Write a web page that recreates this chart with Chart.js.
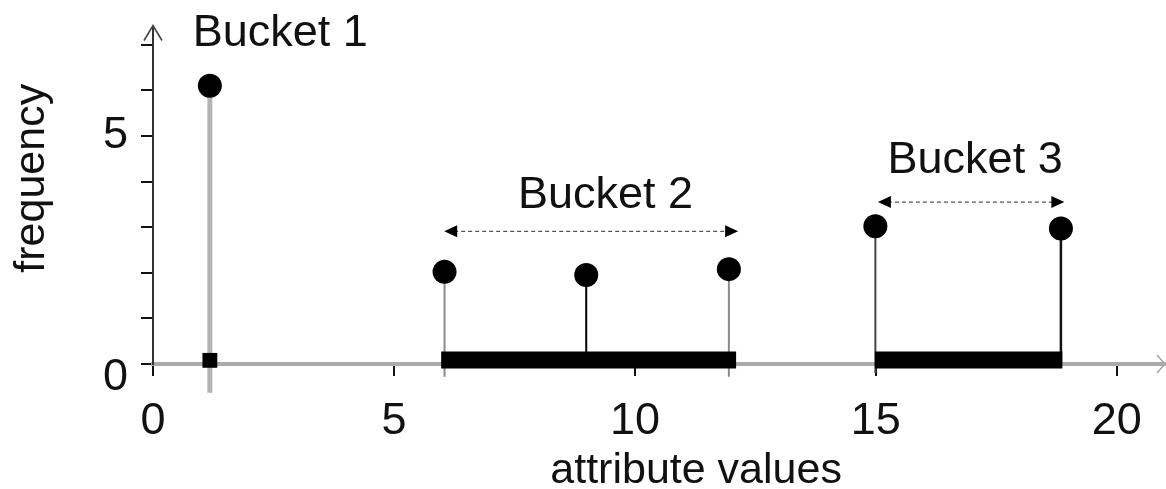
<!DOCTYPE html>
<html><head><meta charset="utf-8">
<script src="https://cdn.jsdelivr.net/npm/chart.js@4.4.1/dist/chart.umd.min.js"></script>
<style>html,body{margin:0;padding:0;background:#fff}#wrap{width:1166px;height:489px;position:relative}</style>
</head><body><div id="wrap"><canvas id="c"></canvas></div>
<script>
// ---- data ----
const attributeValues = [1.18, 6.05, 8.99, 11.95, 14.99, 18.84];
const frequencies     = [6.1, 2.02, 1.95, 2.08, 3.02, 2.97];
const stemBottoms     = [-0.63, -0.28, 0, -0.28, -0.2, 0];
const bucketNames  = ['Bucket 1', 'Bucket 2', 'Bucket 3'];
const bucketStart  = [1.18, 5.98, 14.98];
const bucketEnd    = [1.18, 12.1, 18.87];
const bucketLabelX = [2.64, 9.39, 17.06];
const bucketLabelY = [6.98, 3.41, 4.18];
const bucketArrowY = [null, 2.91, 3.55];
const xTicks = [0, 5, 10, 15, 20];
const yTicks = [0, 1, 2, 3, 4, 5, 6, 7];
const yTickLabels = ['0', '', '', '', '', '5', '', ''];
const xTitle = 'attribute values';
const yTitle = 'frequency';

// ---- styles ----
const stemColors = ['#b4b4b4', '#8a8a8a', '#000000', '#8a8a8a', '#444444', '#111111'];
const stemWidths = [5, 2, 2, 2, 2, 2.5];
const FONT = "'Liberation Sans', Arial, Helvetica, sans-serif";

const datasets = [];
attributeValues.forEach((v, i) => {
  datasets.push({
    type: 'line', data: [{x: v, y: stemBottoms[i]}, {x: v, y: frequencies[i]}],
    borderColor: stemColors[i], borderWidth: stemWidths[i], pointRadius: 0,
    clip: false, order: 5, borderCapStyle: 'butt'
  });
});
// bucket bars (bucket 1 is a single value -> square marker)
bucketStart.forEach((s, i) => {
  if (s === bucketEnd[i]) {
    datasets.push({
      type: 'scatter', data: [{x: s, y: 0.08}], pointStyle: 'rect', pointRadius: 10.5,
      backgroundColor: '#000', borderColor: '#000', borderWidth: 0, clip: false, order: 1
    });
  } else {
    datasets.push({
      type: 'line', data: [{x: s, y: 0.09}, {x: bucketEnd[i], y: 0.09}],
      borderColor: '#000', borderWidth: 17, borderCapStyle: 'butt', pointRadius: 0,
      clip: false, order: 1
    });
  }
});
datasets.push({
  type: 'scatter', data: attributeValues.map((v, i) => ({x: v, y: frequencies[i]})),
  pointRadius: 12, pointHoverRadius: 12, backgroundColor: '#000', borderColor: '#000', borderWidth: 0,
  clip: false, order: 0
});

const annot = {
  id: 'annot',
  afterDraw(chart) {
    const {ctx, scales: {x, y}, chartArea: a} = chart;
    ctx.save();
    // y axis arrowhead (open)
    ctx.strokeStyle = '#444'; ctx.lineWidth = 1.6;
    ctx.beginPath();
    ctx.moveTo(a.left - 9, a.top + 14); ctx.lineTo(a.left, a.top - 1); ctx.lineTo(a.left + 9, a.top + 14);
    ctx.stroke();
    // x axis arrowhead (open)
    ctx.strokeStyle = '#aaa';
    ctx.beginPath();
    ctx.moveTo(a.right - 8, a.bottom - 9); ctx.lineTo(a.right, a.bottom); ctx.lineTo(a.right - 8, a.bottom + 9);
    ctx.stroke();
    // bucket dashed arrows
    bucketArrowY.forEach((yy, i) => {
      if (yy === null) return;
      const x0 = x.getPixelForValue(bucketStart[i]) + 3, x1 = x.getPixelForValue(bucketEnd[i]) + 2;
      const py = y.getPixelForValue(yy);
      ctx.strokeStyle = '#555'; ctx.lineWidth = 1.3; ctx.setLineDash([4, 3]);
      ctx.beginPath(); ctx.moveTo(x0 + 10, py); ctx.lineTo(x1 - 10, py); ctx.stroke();
      ctx.setLineDash([]);
      ctx.fillStyle = '#000';
      ctx.beginPath(); ctx.moveTo(x0, py); ctx.lineTo(x0 + 13, py - 6); ctx.lineTo(x0 + 13, py + 6); ctx.closePath(); ctx.fill();
      ctx.beginPath(); ctx.moveTo(x1, py); ctx.lineTo(x1 - 13, py - 6); ctx.lineTo(x1 - 13, py + 6); ctx.closePath(); ctx.fill();
    });
    // bucket labels
    ctx.fillStyle = '#111'; ctx.font = '45px ' + FONT; ctx.textAlign = 'center'; ctx.textBaseline = 'alphabetic';
    bucketNames.forEach((n, i) => {
      ctx.fillText(n, x.getPixelForValue(bucketLabelX[i]), y.getPixelForValue(bucketLabelY[i]));
    });
    // axis titles
    ctx.font = '43px ' + FONT;
    ctx.fillText(xTitle, x.getPixelForValue(11.27), 483);
    ctx.translate(44, (a.top + a.bottom) / 2 - 17);
    ctx.rotate(-Math.PI / 2);
    ctx.fillText(yTitle, 0, 0);
    ctx.restore();
  }
};

new Chart(document.getElementById('c'), {
  data: {datasets},
  options: {
    responsive: true, maintainAspectRatio: false, animation: false,
    events: [],
    layout: {autoPadding: false, padding: {top: 26, right: 1, left: 0, bottom: 0}},
    plugins: {legend: {display: false}, tooltip: {enabled: false}},
    scales: {
      x: {
        type: 'linear', min: 0, max: 21,
        afterBuildTicks: s => { s.ticks = xTicks.map(v => ({value: v})); },
        afterFit: s => { s.height = 125; },
        ticks: {callback: v => String(v), color: '#111', font: {size: 45, family: FONT}, padding: 19, maxRotation: 0, autoSkip: false},
        grid: {drawOnChartArea: false, drawTicks: true, tickLength: 12, color: '#111', lineWidth: 2},
        border: {display: true, color: '#aaa', width: 4}
      },
      y: {
        type: 'linear', min: 0, max: 7.4,
        afterBuildTicks: s => { s.ticks = yTicks.map(v => ({value: v})); },
        afterFit: s => { s.width = 153; },
        ticks: {
          callback: (v) => { const i = yTicks.indexOf(v); const t = yTickLabels[i]; return v === 0 ? ['', t] : t; },
          color: '#111', font: {size: 45, family: FONT, lineHeight: 0.6}, padding: 13, autoSkip: false
        },
        grid: {drawOnChartArea: false, drawTicks: true, tickLength: 12, color: '#111', lineWidth: 2},
        border: {display: true, color: '#333', width: 2}
      }
    }
  },
  plugins: [annot]
});
</script></body></html>
